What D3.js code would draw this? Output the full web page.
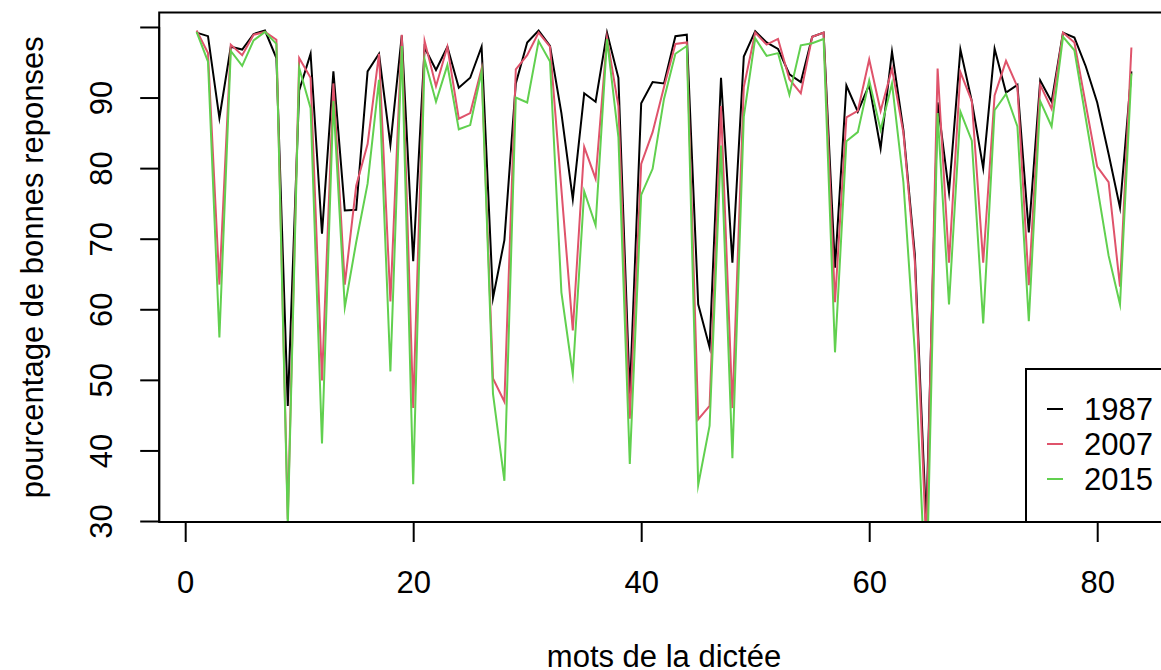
<!DOCTYPE html>
<html>
<head>
<meta charset="utf-8">
<script src="https://cdn.jsdelivr.net/npm/d3@7"></script>
<style>
  html, body { margin: 0; padding: 0; background: #fff; }
  svg { display: block; }
  text { font-family: "Liberation Sans", Arial, Helvetica, sans-serif; fill: #000; }
</style>
</head>
<body>
<svg id="chart" width="1161" height="670"></svg>
<script>
// ---- data ----
const words = d3.range(1, 84); // 83 mots
const series1987 = [99.2,98.7,87.1,97.2,96.8,99.0,99.5,95.6,46.3,91.0,96.2,70.7,93.7,74.0,74.1,93.7,96.2,83.3,98.8,66.8,
  97.1,93.9,97.2,91.4,92.8,97.2,61.6,69.8,92.0,97.8,99.5,97.3,87.8,75.6,90.6,89.4,99.2,92.8,47.8,89.2,
  92.2,92.0,98.7,98.9,60.7,54.6,92.8,66.6,95.8,99.4,97.8,96.9,93.3,92.2,98.6,99.2,65.9,91.7,88.0,91.8,
  82.8,96.5,85.4,67.8,29.5,89.3,76.6,96.8,89.5,80.0,96.9,90.7,91.8,70.9,92.4,89.4,99.2,98.5,94.4,89.3,
  82.0,74.4,93.7];
const series2007 = [99.5,96.3,63.5,97.5,96.0,98.9,99.3,98.2,30.3,95.6,92.8,49.9,92.0,63.5,77.5,83.4,96.2,61.1,98.9,46.0,
  98.0,91.6,97.2,87.0,87.8,94.1,50.2,46.9,94.0,96.0,99.2,97.2,77.0,57.0,83.0,78.5,98.5,88.8,44.5,80.6,
  85.1,91.5,97.6,97.8,44.4,46.3,88.8,46.0,91.5,99.2,97.5,98.3,92.6,90.6,98.6,99.2,61.0,87.2,88.1,95.4,
  88.1,94.1,85.0,66.8,26.5,94.1,66.6,93.6,89.5,66.6,90.3,95.2,91.5,63.4,91.8,88.4,99.2,97.8,89.0,80.2,
  78.0,63.2,97.1];
const series2015 = [99.3,95.1,56.0,96.6,94.5,98.1,99.3,97.6,29.3,94.2,88.5,41.0,89.5,60.3,69.5,77.8,92.5,51.2,97.3,35.2,
  95.4,89.4,94.6,85.5,86.1,93.7,48.0,35.7,90.0,89.3,98.0,95.1,62.4,50.8,76.7,71.9,98.3,84.4,38.1,76.2,
  79.9,89.8,96.2,97.3,35.1,43.5,83.2,38.9,87.3,98.4,95.9,96.3,90.4,97.4,97.7,98.3,53.9,83.8,85.1,92.4,
  85.4,92.0,78.0,54.0,18.0,87.8,60.7,88.0,83.9,58.0,88.2,90.5,85.9,58.3,89.5,85.9,98.6,96.7,87.0,77.4,
  67.6,60.7,93.4];
const seriesNames = ["1987", "2007", "2015"];
const seriesColors = ["#000000", "#DF536B", "#61D04F"];
const xTicks = [0, 20, 40, 60, 80];
const yTicks = [30, 40, 50, 60, 70, 80, 90, 100];
const yTickLabels = ["30", "40", "50", "60", "70", "80", "90", ""];
const xTitle = "mots de la dictée";
const yTitle = "pourcentage de bonnes reponses";

// ---- layout ----
const svg = d3.select("#chart");
const FS = 31;
const plot = { left: 159.2, right: 1168.8, top: 12.5, bottom: 522 };

const x = d3.scaleLinear().domain([-2.28, 86.28]).range([plot.left, plot.right]);
const y = d3.scaleLinear().domain([29.86, 102.05]).range([plot.bottom, plot.top]);

svg.append("defs").append("clipPath").attr("id", "clip")
  .append("rect")
  .attr("x", plot.left).attr("y", plot.top)
  .attr("width", plot.right - plot.left).attr("height", plot.bottom - plot.top);

// lines
const allSeries = [series1987, series2007, series2015];
const line = d3.line().x((d, i) => x(words[i])).y(d => y(d));
const gLines = svg.append("g").attr("clip-path", "url(#clip)");
allSeries.forEach((s, k) => {
  gLines.append("path")
    .datum(s)
    .attr("d", line)
    .attr("fill", "none")
    .attr("stroke", seriesColors[k])
    .attr("stroke-width", 2)
    .attr("stroke-linejoin", "miter")
    .attr("stroke-miterlimit", 10);
});

// box
svg.append("rect")
  .attr("x", plot.left).attr("y", plot.top)
  .attr("width", plot.right - plot.left).attr("height", plot.bottom - plot.top)
  .attr("fill", "none").attr("stroke", "#000").attr("stroke-width", 2);

// x axis
const xAxis = d3.axisBottom(x).tickValues(xTicks).tickSize(20).tickSizeOuter(0).tickFormat(d3.format("d"));
const gx = svg.append("g").attr("transform", `translate(0,${plot.bottom})`).call(xAxis);
gx.select(".domain").attr("stroke", "#000").attr("stroke-width", 2)
  .attr("d", `M${x(xTicks[0])},0H${x(xTicks[xTicks.length - 1])}`);
gx.selectAll(".tick line").attr("stroke", "#000").attr("stroke-width", 2);
gx.selectAll(".tick text")
  .attr("y", 60).attr("dy", "0.35em")
  .attr("font-size", FS).attr("font-family", "Liberation Sans, Arial, sans-serif")
  .attr("fill", "#000");

// y axis
const yAxis = d3.axisLeft(y).tickValues(yTicks).tickSize(19).tickSizeOuter(0)
  .tickFormat((d, i) => yTickLabels[i]);
const gy = svg.append("g").attr("transform", `translate(${plot.left},0)`).call(yAxis);
gy.select(".domain").attr("stroke", "#000").attr("stroke-width", 2)
  .attr("d", `M0,${y(yTicks[0])}V${y(yTicks[yTicks.length - 1])}`);
gy.selectAll(".tick line").attr("stroke", "#000").attr("stroke-width", 2);
gy.selectAll(".tick text")
  .attr("x", 0).attr("y", 0).attr("dy", "0.35em")
  .attr("transform", "translate(-58,0) rotate(-90)")
  .attr("text-anchor", "middle")
  .attr("font-size", FS).attr("font-family", "Liberation Sans, Arial, sans-serif")
  .attr("fill", "#000");

// titles
svg.append("text")
  .attr("x", (plot.left + plot.right) / 2).attr("y", 656).attr("dy", "0.35em")
  .attr("text-anchor", "middle").attr("font-size", FS)
  .text(xTitle);
svg.append("text")
  .attr("transform", `translate(32,${(plot.top + plot.bottom) / 2}) rotate(-90)`)
  .attr("dy", "0.35em")
  .attr("text-anchor", "middle").attr("font-size", FS)
  .text(yTitle);

// legend
const leg = svg.append("g");
leg.append("rect")
  .attr("x", 1026).attr("y", 369)
  .attr("width", plot.right - 1026).attr("height", plot.bottom - 369)
  .attr("fill", "#fff").attr("stroke", "#000").attr("stroke-width", 2);
const legY = [409, 444, 479];
seriesNames.forEach((name, k) => {
  leg.append("line")
    .attr("x1", 1047).attr("x2", 1063)
    .attr("y1", legY[k]).attr("y2", legY[k])
    .attr("stroke", seriesColors[k]).attr("stroke-width", 2);
  leg.append("text")
    .attr("x", 1084).attr("y", legY[k]).attr("dy", "0.35em")
    .attr("font-size", FS)
    .text(name);
});
</script>
</body>
</html>
